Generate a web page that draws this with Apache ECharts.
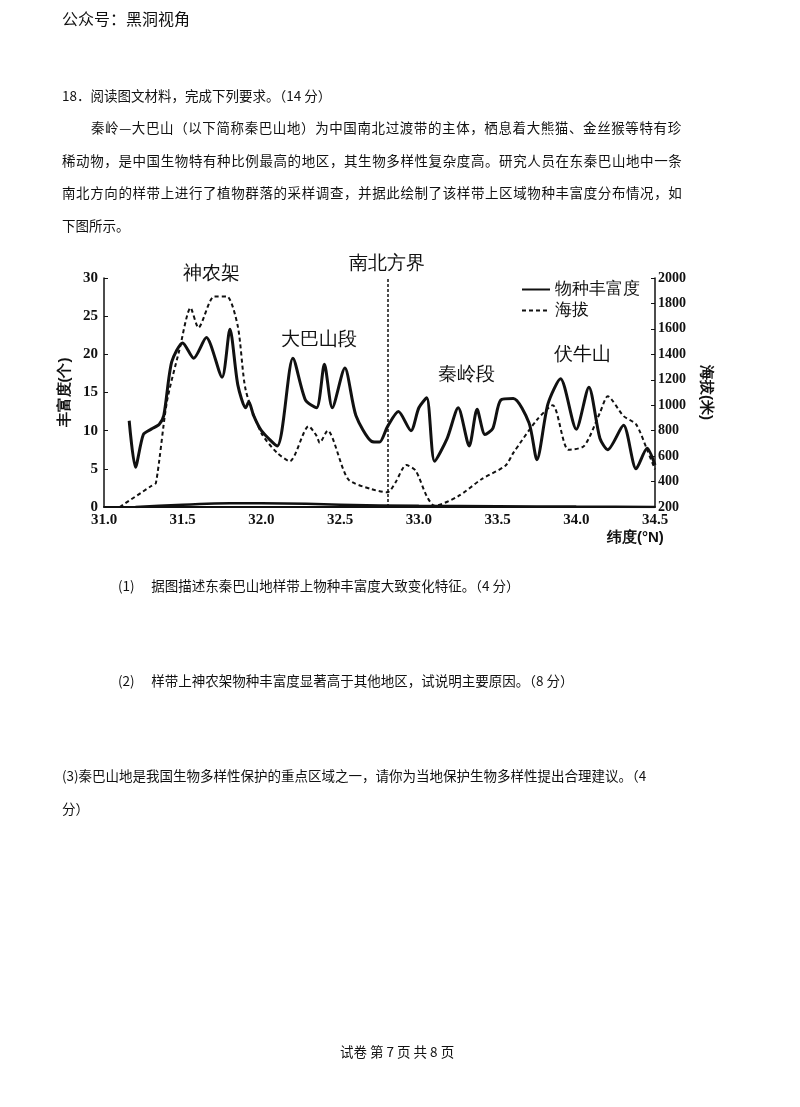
<!DOCTYPE html>
<html><head><meta charset="utf-8">
<script src="https://cdn.jsdelivr.net/npm/echarts@6/dist/echarts.min.js"></script>
<style>
body{margin:0;width:800px;height:1107px;background:#fff;position:relative;font-family:"Noto Sans CJK SC",sans-serif;color:#111;}
#c{position:absolute;left:0;top:0;width:800px;height:1107px;}
.t{position:absolute;font-size:13.5px;white-space:nowrap;}
</style></head><body>
<div id="c"></div>
<div class="t" style="left:62px;top:6px;font-size:16px;">公众号：黑洞视角</div>
<div class="t" style="left:62px;top:85px;">18．阅读图文材料，完成下列要求。（14 分）</div>
<div class="t" style="left:91px;top:117px;letter-spacing:0.6px;">秦岭—大巴山（以下简称秦巴山地）为中国南北过渡带的主体，栖息着大熊猫、金丝猴等特有珍</div>
<div class="t" style="left:62px;top:150px;letter-spacing:0.6px;">稀动物，是中国生物特有种比例最高的地区，其生物多样性复杂度高。研究人员在东秦巴山地中一条</div>
<div class="t" style="left:62px;top:182px;letter-spacing:0.6px;">南北方向的样带上进行了植物群落的采样调查，并据此绘制了该样带上区域物种丰富度分布情况，如</div>
<div class="t" style="left:62px;top:215px;">下图所示。</div>
<div class="t" style="left:118px;top:575px;">(1)　 据图描述东秦巴山地样带上物种丰富度大致变化特征。（4 分）</div>
<div class="t" style="left:118px;top:670px;">(2)　 样带上神农架物种丰富度显著高于其他地区，试说明主要原因。（8 分）</div>
<div class="t" style="left:62px;top:765px;">(3)秦巴山地是我国生物多样性保护的重点区域之一，请你为当地保护生物多样性提出合理建议。（4</div>
<div class="t" style="left:62px;top:798px;">分）</div>
<div class="t" style="left:340px;top:1041px;">试卷 第 7 页 共 8 页</div>
<script>
const richness=[[31.16,11.3],[31.2,5.2],[31.25,9.5],[31.3,10.2],[31.35,10.8],[31.38,12],[31.43,19],[31.5,21.5],[31.57,19.5],[31.65,22.2],[31.75,17],[31.8,23.3],[31.85,16],[31.9,13],[31.92,13.8],[31.95,12],[32.0,10],[32.1,8],[32.2,19.5],[32.28,14],[32.35,13],[32.4,18.7],[32.45,13],[32.53,18.2],[32.6,12],[32.7,8.6],[32.75,8.5],[32.8,10.5],[32.87,12.5],[32.95,10],[33.0,13],[33.05,14.3],[33.1,6],[33.18,9],[33.25,13],[33.32,8],[33.37,12.8],[33.42,9.5],[33.47,10.3],[33.52,14],[33.6,14.2],[33.7,11],[33.75,6.2],[33.82,13.5],[33.9,16.8],[34.0,10.2],[34.08,15.7],[34.15,9],[34.2,7.5],[34.3,10.7],[34.38,5],[34.45,7.7],[34.5,5.5]];
const elevation=[[31.1,200],[31.3,365],[31.33,390],[31.4,1030],[31.48,1440],[31.55,1765],[31.6,1610],[31.7,1855],[31.78,1855],[31.85,1620],[31.9,1120],[32.0,780],[32.1,625],[32.18,560],[32.3,835],[32.35,760],[32.37,705],[32.42,800],[32.55,420],[32.7,340],[32.8,315],[32.85,390],[32.92,530],[32.98,485],[33.05,285],[33.1,210],[33.25,285],[33.4,420],[33.55,525],[33.6,625],[33.75,885],[33.85,1000],[33.95,650],[34.05,680],[34.15,940],[34.2,1070],[34.3,915],[34.38,850],[34.45,650],[34.5,495]];
const baseline=[[31.2,0],[31.5,0.3],[31.8,0.5],[32.0,0.5],[32.5,0.3],[33.0,0.15],[33.5,0.1],[34.0,0.05],[34.5,0]];
const boundary=32.8;
const ax={fontFamily:"Liberation Serif",fontWeight:"bold",fontSize:15,color:"#111"};
const ch=echarts.init(document.getElementById('c'));
ch.setOption({
 animation:false,
 grid:{left:104,top:278,width:551,height:229},
 legend:{right:155,top:276,orient:'vertical',itemWidth:28,itemGap:4,itemStyle:{opacity:0},textStyle:{fontSize:17,color:'#111'},data:['物种丰富度','海拔']},
 xAxis:{type:'value',min:31,max:34.5,interval:0.5,axisLine:{lineStyle:{color:'#111',width:2}},axisTick:{show:false},splitLine:{show:false},
   axisLabel:Object.assign({formatter:v=>v.toFixed(1),margin:6},ax)},
 yAxis:[{type:'value',min:0,max:30,interval:5,axisLine:{show:true,lineStyle:{color:'#111',width:1.5}},axisTick:{show:true,inside:true,length:4},splitLine:{show:false},
   axisLabel:Object.assign({margin:6},ax),name:'丰富度(个)',nameLocation:'middle',nameGap:32,nameTextStyle:{fontSize:15,fontWeight:'bold',color:'#111'}},
  {type:'value',min:200,max:2000,interval:200,position:'right',axisLine:{show:true,lineStyle:{color:'#111',width:1.5}},axisTick:{show:true,inside:true,length:4},splitLine:{show:false},
   axisLabel:Object.assign({margin:3,formatter:v=>String(v)},ax,{fontSize:14}),name:'海拔(米)',nameLocation:'middle',nameGap:44,nameRotate:-90,nameTextStyle:{fontSize:15,fontWeight:'bold',color:'#111'}}],
 series:[
  {name:'物种丰富度',type:'line',data:richness,smooth:0.25,symbol:'none',lineStyle:{color:'#111',width:3},itemStyle:{color:'#111'},
   markLine:{silent:true,symbol:'none',label:{show:false},lineStyle:{color:'#111',type:[3,2],width:1.5},data:[{xAxis:boundary}]}},
  {name:'海拔',type:'line',yAxisIndex:1,data:elevation,smooth:0.25,symbol:'none',lineStyle:{color:'#111',width:2,type:[4,3]},itemStyle:{color:'#111'}},
  {name:'base',type:'line',data:baseline,smooth:true,symbol:'none',lineStyle:{color:'#111',width:2.5}}
 ],
 graphic:[
  {type:'text',left:183,top:264,style:{text:'神农架',fontSize:19,fill:'#111'}},
  {type:'text',left:349,top:254,style:{text:'南北方界',fontSize:19,fill:'#111'}},
  {type:'text',left:281,top:330,style:{text:'大巴山段',fontSize:19,fill:'#111'}},
  {type:'text',left:438,top:365,style:{text:'秦岭段',fontSize:19,fill:'#111'}},
  {type:'text',left:554,top:345,style:{text:'伏牛山',fontSize:19,fill:'#111'}},
  {type:'text',left:607,top:530,style:{text:'纬度(°N)',fontSize:15,fontWeight:'bold',fill:'#111'}}
 ]
});
</script></body></html>
